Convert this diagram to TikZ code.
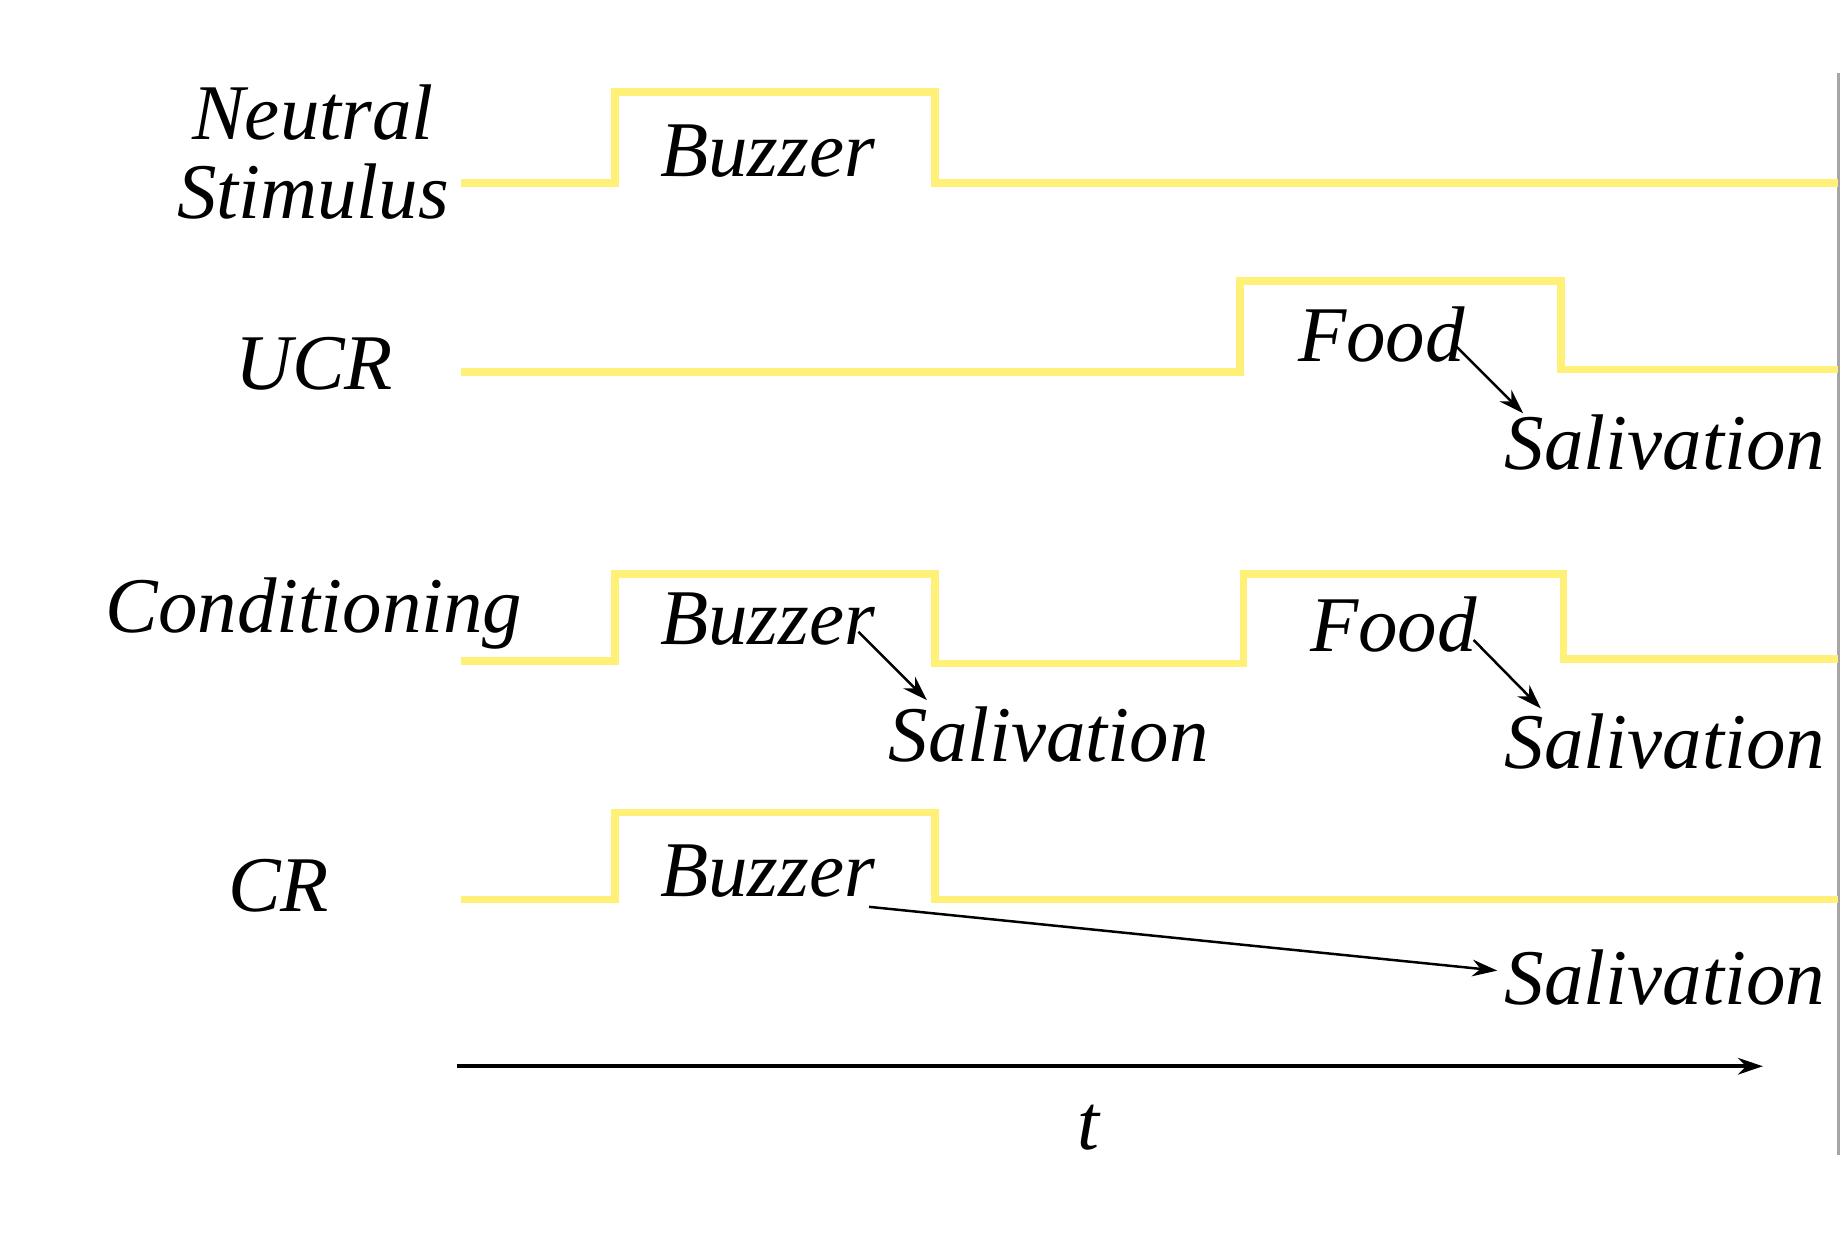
\documentclass[tikz,border=0pt]{standalone}
\usepackage{fontspec}
\setmainfont{Liberation Serif}
\usetikzlibrary{arrows.meta}
\definecolor{sig}{RGB}{255,240,120}
\begin{document}
\begin{tikzpicture}[x=0.01cm,y=-0.01cm,
  sigl/.style={draw=sig,line width=1.8pt},
  lbl/.style={font=\fontsize{19}{22}\selectfont\itshape,inner sep=0pt},
  arr/.style={-{Stealth[length=6pt,width=4pt]},line width=0.6pt}]
\useasboundingbox (0,0) rectangle (1560,1052);
\draw[gray!70,line width=0.8pt] (1557,62) -- (1557,978);
% signals
\draw[sigl] (390,155) -- (521,155) -- (521,78) -- (792,78) -- (792,155) -- (1557,155);
\draw[sigl] (390,315) -- (1050,315) -- (1050,238) -- (1322,238) -- (1322,313) -- (1557,313);
\draw[sigl] (390,560) -- (521,560) -- (521,486) -- (792,486) -- (792,562) -- (1053,562) -- (1053,486) -- (1324,486) -- (1324,558) -- (1557,558);
\draw[sigl] (390,762) -- (521,762) -- (521,688) -- (792,688) -- (792,762) -- (1557,762);
% row labels
\node[lbl] (n1) at (265,95) {Neutral};
\node[lbl] (n2) at (265,162) {Stimulus};
\node[lbl] (ucr) at (266,308) {UCR};
\node[lbl] (cond) at (266,520) {Conditioning};
\node[lbl] (cr) at (236,750) {CR};
% inner labels
\node[lbl] (b1) at (650,128) {Buzzer};
\node[lbl] (f2) at (1170,283) {Food};
\node[lbl] (s2) at (1410,375) {Salivation};
\node[lbl] (b3) at (650,524) {Buzzer};
\node[lbl] (s3a) at (888,622) {Salivation};
\node[lbl] (f3) at (1180,529) {Food};
\node[lbl] (s3b) at (1410,628) {Salivation};
\node[lbl] (b4) at (650,738) {Buzzer};
\node[lbl] (s4) at (1410,828) {Salivation};
% arrows
\coordinate (a1) at (1232,292); \coordinate (a2) at (1290,350);
\coordinate (c1) at (727,535); \coordinate (c2) at (785,593);
\coordinate (d1) at (1248,542); \coordinate (d2) at (1305,600);
\coordinate (e1) at (736,768); \coordinate (e2) at (1268,822);
\draw[arr] (a1) -- (a2);
\draw[arr] (c1) -- (c2);
\draw[arr] (d1) -- (d2);
\draw[arr] (e1) -- (e2);
% time axis
\coordinate (t0) at (387,903); \coordinate (t1) at (1493,903);
\draw[arr,line width=0.9pt] (t0) -- (t1);
\node[lbl] (t) at (922,955) {t};
\end{tikzpicture}
\end{document}
